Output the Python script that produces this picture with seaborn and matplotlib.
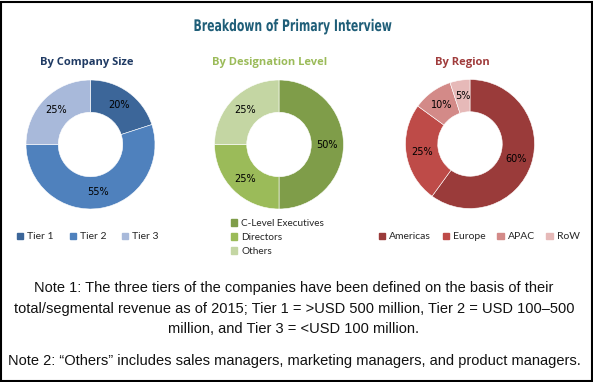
import matplotlib
matplotlib.use("Agg")
import matplotlib.pyplot as plt
import seaborn as sns
from matplotlib.patches import Patch, Rectangle, PathPatch
from matplotlib.textpath import TextPath
from matplotlib.font_manager import FontProperties
from matplotlib.transforms import Affine2D, IdentityTransform

sns.set_theme(style="white")
plt.rcParams['font.family'] = ['DejaVu Sans']

# data
size_labels = ["Tier 1", "Tier 2", "Tier 3"]
size_values = [20, 55, 25]
size_colors = ["#3C6699", "#4F81BD", "#A8B9DA"]

desig_labels = ["C-Level Executives", "Directors", "Others"]
desig_values = [50, 25, 25]
desig_colors = ["#7F9D49", "#9BBB59", "#C4D6A3"]

region_labels = ["Americas", "Europe", "APAC", "RoW"]
region_values = [60, 25, 10, 5]
region_colors = ["#9A3B3A", "#BE4B48", "#D38A88", "#E6B9B8"]

title = "Breakdown of Primary Interview"

W, H = 593, 382
fig = plt.figure(figsize=(W / 100, H / 100), dpi=100)
fig.patch.set_facecolor("white")


def donut(cx, cy, r, values, colors):
    ax = fig.add_axes([(cx - r) / W, (H - cy - r) / H, 2 * r / W, 2 * r / H])
    ax.pie(
        values,
        colors=colors,
        startangle=90,
        counterclock=False,
        radius=1,
        autopct=lambda p: f"{p:.0f}%",
        pctdistance=0.75,
        wedgeprops={"width": 0.5, "edgecolor": "white", "linewidth": 0.4},
        textprops={"fontsize": 7, "color": "black"},
    )
    ax.set_xlim(-1, 1)
    ax.set_ylim(-1, 1)
    ax.set_aspect("equal")
    ax.axis("off")
    return ax


donut(90.5, 144.5, 64.5, size_values, size_colors)
donut(279, 144.5, 64.5, desig_values, desig_colors)
donut(470, 144, 64.5, region_values, region_colors)

# condensed bold title, drawn as a squeezed text path
tp = TextPath((0, 0), title, size=16, prop=FontProperties(family="DejaVu Sans", weight="bold"))
bb = tp.get_extents()
sx = 197 / bb.width
tr = Affine2D().translate(-bb.x0 - bb.width / 2, 0).scale(sx, 1).translate(293, H - 31)
fig.add_artist(PathPatch(tr.transform_path(tp), transform=IdentityTransform(),
                         facecolor="#1F5E78", edgecolor="none"))

sub_kw = dict(ha="center", va="center", fontsize=8, fontweight="bold", family="Open Sans")
fig.text(86.5 / W, 1 - 63 / H, "By Company Size", color="#1F3A63", **sub_kw)
fig.text(270 / W, 1 - 63 / H, "By Designation Level", color="#9BBB59", **sub_kw)
fig.text(462 / W, 1 - 63 / H, "By Region", color="#A03C3C", **sub_kw)

# legends
leg_kw = dict(frameon=False, handlelength=0.6, handleheight=0.6,
              handletextpad=0.4, borderpad=0, borderaxespad=0, prop={"family": "Lato", "size": 7.5})
fig.legend(handles=[Patch(color=c, label=l) for c, l in zip(size_colors, size_labels)],
           loc="center left", bbox_to_anchor=(17 / W, 1 - 237 / H), ncol=3, columnspacing=1.5, **leg_kw)
fig.legend(handles=[Patch(color=c, label=l) for c, l in zip(desig_colors, desig_labels)],
           loc="upper left", bbox_to_anchor=(231 / W, 1 - 219 / H), ncol=1, labelspacing=0.5,
           **{**leg_kw, "prop": {"family": "Lato", "size": 7.2}})
fig.legend(handles=[Patch(color=c, label=l) for c, l in zip(region_colors, region_labels)],
           loc="center left", bbox_to_anchor=(379 / W, 1 - 237 / H), ncol=4, columnspacing=1.1, **leg_kw)

# notes
note_kw = dict(ha="center", va="center", fontsize=10.5, family="Liberation Sans", color="#111111")
fig.text(294 / W, 1 - 288 / H, "Note 1: The three tiers of the companies have been defined on the basis of their", **note_kw)
fig.text(294 / W, 1 - 309 / H, "total/segmental revenue as of 2015; Tier 1 = >USD 500 million, Tier 2 = USD 100–500", **note_kw)
fig.text(294 / W, 1 - 329 / H, "million, and Tier 3 = <USD 100 million.", **note_kw)
fig.text(294 / W, 1 - 361 / H, "Note 2: “Others” includes sales managers, marketing managers, and product managers.", **note_kw)

# border
fig.patches.append(Rectangle((0.002, 0.002), 0.996, 0.994, transform=fig.transFigure,
                             fill=False, edgecolor="black", linewidth=1.5))

fig.savefig("out.png", dpi=100)
